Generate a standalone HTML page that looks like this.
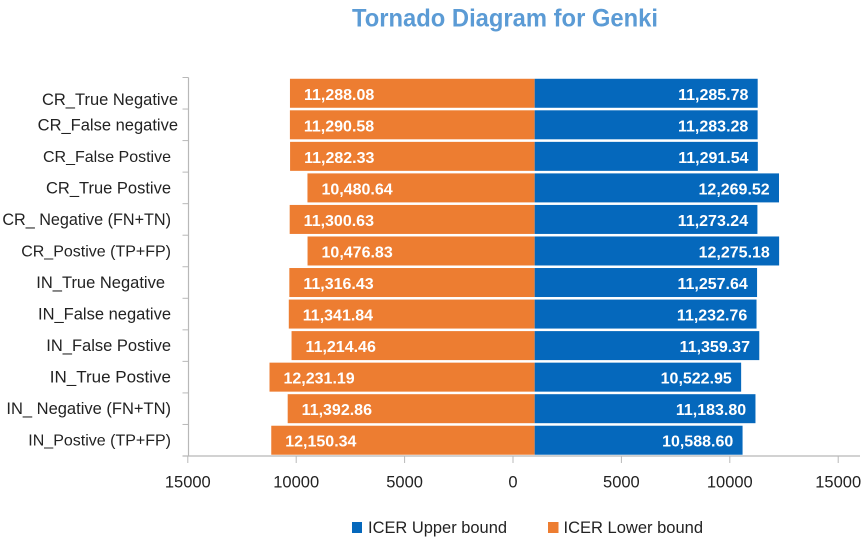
<!DOCTYPE html>
<html lang="en">
<head>
<meta charset="utf-8">
<title>Tornado Diagram for Genki</title>
<style>
  html, body { margin: 0; padding: 0; background: #fff; }
  svg { display: block; font-family: "Liberation Sans", sans-serif; }
</style>
</head>
<body>
<svg id="chart" xmlns="http://www.w3.org/2000/svg" width="863" height="541" viewBox="0 0 863 541">
  <rect x="0" y="0" width="863" height="541" fill="#ffffff"/>
  <text x="505" y="26.500" text-anchor="middle" font-size="25" font-weight="700" fill="#5B9BD5" textLength="306" lengthAdjust="spacingAndGlyphs">Tornado Diagram for Genki</text>
  <g id="bars"></g>
  <g id="axes"></g>
  <g id="legend">
    <rect x="352" y="522" width="10" height="11" fill="#0568BC"/>
    <text x="368" y="533" font-size="17" fill="#222222" textLength="139" lengthAdjust="spacingAndGlyphs">ICER Upper bound</text>
    <rect x="548" y="522" width="10.500" height="11" fill="#ED7D31"/>
    <text x="563.500" y="533" font-size="17" fill="#222222" textLength="139.500" lengthAdjust="spacingAndGlyphs">ICER Lower bound</text>
  </g>
</svg>
<script>
const categories = [
  "CR_True Negative", "CR_False negative", "CR_False Postive", "CR_True Postive",
  "CR_ Negative (FN+TN)", "CR_Postive (TP+FP)", "IN_True Negative", "IN_False negative",
  "IN_False Postive", "IN_True Postive", "IN_ Negative (FN+TN)", "IN_Postive (TP+FP)"
];
const upperBound = [
  11285.78, 11283.28, 11291.54, 12269.52, 11273.24, 12275.18,
  11257.64, 11232.76, 11359.37, 10522.95, 11183.80, 10588.60
];
const lowerBound = [
  11288.08, 11290.58, 11282.33, 10480.64, 11300.63, 10476.83,
  11316.43, 11341.84, 11214.46, 12231.19, 11392.86, 12150.34
];
const axisTicks = [-15000, -10000, -5000, 0, 5000, 10000, 15000];
const barBase = 1000;

const NS = "http://www.w3.org/2000/svg";
const plot = { zeroX: 513, pxPerUnit: 108.4 / 5000, top: 77.5, bottom: 456, left: 188.5, right: 860 };
const bandHeight = (plot.bottom - plot.top) / categories.length;
const barHeight = 29;

function xScale(v) { return plot.zeroX + v * plot.pxPerUnit; }
function lowerEnd(v) { return xScale(barBase) - v * plot.pxPerUnit; }
function bandTop(i) { return plot.top + i * bandHeight; }
function labelNudge(i) {
  if (i === 0) return { dx: 7, dy: 6 };
  if (i === 1) return { dx: 7, dy: 0 };
  if (i === 6) return { dx: -6, dy: 0 };
  return { dx: 0, dy: 0 };
}
function labelFontSize(i) {
  if (i === 2 || i === 5 || i === 11) return 16;
  if (i === 4) return 16.2;
  if (i === 9) return 17;
  return 16.5;
}
function make(tag, attrs, parent, text) {
  const el = document.createElementNS(NS, tag);
  for (const k in attrs) el.setAttribute(k, attrs[k]);
  if (text !== undefined) el.textContent = text;
  parent.appendChild(el);
  return el;
}
function fmt(v) {
  return v.toLocaleString("en-US", { minimumFractionDigits: 2, maximumFractionDigits: 2 });
}

const barsG = document.getElementById("bars");
const axesG = document.getElementById("axes");

categories.forEach(function (cat, i) {
  const y = bandTop(i) + (bandHeight - barHeight) / 2;
  const cy = y + barHeight / 2;
  const x0 = xScale(barBase);

  const lx = lowerEnd(lowerBound[i]);
  const lowerBar = make("rect", { x: lx, y: y, width: x0 - lx, height: barHeight, fill: "#ED7D31" }, barsG);
  
  

  const ux = xScale(upperBound[i]);
  const upperBar = make("rect", { x: x0, y: y, width: ux - x0, height: barHeight, fill: "#0568BC" }, barsG);
  
  

  const lowerValue = make("text", { x: lx + 14, y: cy + 6.5, "font-size": 16, "font-weight": 700, fill: "#ffffff" }, barsG, fmt(lowerBound[i]));
  
  

  const upperValue = make("text", { x: ux - 9.3, y: cy + 6.5, "text-anchor": "end", "font-size": 16, "font-weight": 700, fill: "#ffffff" }, barsG, fmt(upperBound[i]));
  
  

  const nudge = labelNudge(i);
  const catLabel = make("text", { x: 171 + nudge.dx, y: bandTop(i) + bandHeight / 2 + 5.5 + nudge.dy, "text-anchor": "end", "font-size": labelFontSize(i), fill: "#222222" }, axesG, cat);
  
  
});

const yAxis = make("line", { x1: plot.left, x2: plot.left, y1: plot.top, y2: plot.bottom, stroke: "#b8b8b8", "stroke-width": 1.2 }, axesG);



const xAxis = make("line", { x1: 182.5, x2: plot.right, y1: plot.bottom, y2: plot.bottom, stroke: "#b8b8b8", "stroke-width": 1.2 }, axesG);



for (let i = 0; i < categories.length; i++) {
  const tick = make("line", { x1: 182.5, x2: plot.left, y1: bandTop(i), y2: bandTop(i), stroke: "#b8b8b8", "stroke-width": 1 }, axesG);
  
  
}

axisTicks.forEach(function (t) {
  const x = xScale(t);
  const tick = make("line", { x1: x, x2: x, y1: plot.bottom, y2: plot.bottom + 7, stroke: "#b8b8b8", "stroke-width": 1 }, axesG);
  
  

  const label = make("text", { x: x, y: 487.5, "text-anchor": "middle", "font-size": 16.5, fill: "#222222" }, axesG, String(Math.abs(t)));
  
  
});
</script>
</body>
</html>
